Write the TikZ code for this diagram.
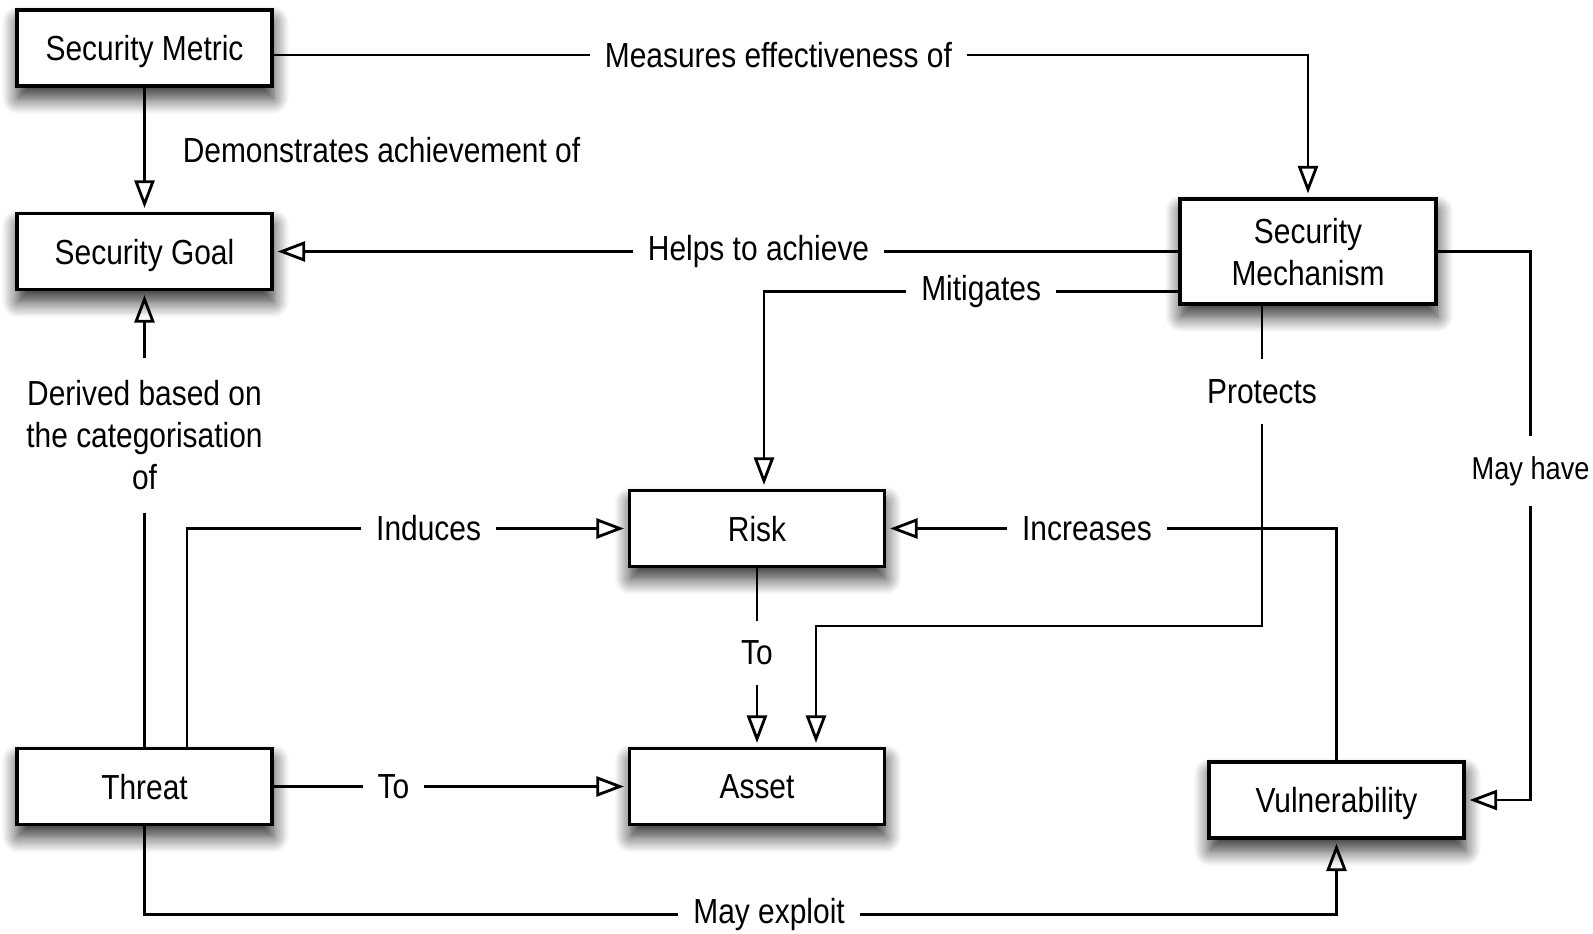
\documentclass[tikz,border=0pt]{standalone}
\usepackage{fontspec}
\setmainfont[FakeStretch=0.86]{Liberation Sans}
\usepackage{tikz}
\usetikzlibrary{arrows.meta,arrows}
\usetikzlibrary{shadows,shadows.blur}
\tikzset{
  concept/.style={draw, line width=1.8pt, fill=white, align=center,
    minimum width=5.1cm, minimum height=1.52cm, inner sep=0pt, text depth=0pt,
    blur shadow={shadow xshift=0.02cm, shadow yshift=-0.24cm, shadow opacity=85,
      shadow blur radius=0.32cm, shadow blur steps=14}},
  relation/.style={line width=1.6pt, -{Triangle[open, length=0.55cm, width=0.4cm, line width=1.6pt]}, shorten >=0.08cm},
  rellabel/.style={fill=white, inner xsep=0.3cm, inner ysep=0.15cm, align=center},
  vlabel/.style={rellabel, inner ysep=0.4cm},
}
\begin{document}
\begin{tikzpicture}[font=\fontsize{19.8}{24}\selectfont]
    \useasboundingbox (0, 0) rectangle (31.86, -18.68);
    % Concepts
    \node[concept] (metric) at (2.89, -0.96) {Security Metric};
    \node[concept] (goal) at (2.89, -5.03) {Security Goal};
    \node[concept, minimum width=5.12cm, minimum height=2.1cm] (mechanism) at (26.16, -5.03) {Security\\Mechanism};
    \node[concept] (risk) at (15.14, -10.57) {Risk};
    \node[concept] (asset) at (15.14, -15.73) {Asset};
    \node[concept] (threat) at (2.89, -15.73) {Threat};
    \node[concept] (vulnerability) at (26.73, -16.0) {Vulnerability};
    %
    % Relations of the Security Metric:
    \draw[ relation] ([yshift=-0.14cm]metric.east)  -|  (mechanism.north)
        node[rellabel, pos=0.244] {Measures effectiveness of};
    \draw[ relation] (metric)  --  (goal)
        node[midway, anchor=west, xshift=0.62cm] {Demonstrates achievement of};
    %
    % Relations of the Security Mechanism:
    \draw[ relation] (mechanism.west)  --  (goal.east)
        node[rellabel, pos=0.464] {Helps to achieve};
    \draw[ relation] ([yshift=-0.8cm]mechanism.west)  -|  ([xshift=0.14cm]risk.north)
        node[rellabel, pos=0.238] {Mitigates};
    \draw[ relation] ([xshift=-0.92cm]mechanism.south)  |-  node[vlabel, pos=0.134] {Protects}
        ([xshift=1.18cm, yshift=2.42cm]asset.north)  --  ([xshift=1.18cm]asset.north);
    \draw[ relation] (mechanism.east)  -|  node[vlabel, pos=0.70, font=\fontsize{18}{22}\selectfont] {May have}
        ([xshift=1.3cm]vulnerability.east)  --  (vulnerability.east);
    %
    % Relations of the Threat:
    \draw[ relation] (threat)  --  (goal)
        node[vlabel, pos=0.684, inner ysep=0.45cm] {Derived based on\\the categorisation\\of};
    \draw[ relation] ([xshift=0.85cm]threat.north)  |-  (risk.west)
        node[rellabel, pos=0.774] {Induces};
    \draw[ relation] (threat)  --  (asset)
        node[rellabel, pos=0.338] {To};
    \draw[ relation] (threat.south)  |-  node[rellabel, pos=0.762] {May exploit}
        ([yshift=-1.5cm]vulnerability.south)  --  (vulnerability.south);
    %
    % Relations of the Risk and Vulnerability:
    \draw[ relation] (risk)  --  (asset)
        node[vlabel, pos=0.475] {To};
    \draw[ relation] (vulnerability.north)  |-  (risk.east)
        node[rellabel, pos=0.777] {Increases};
\end{tikzpicture}
\end{document}
